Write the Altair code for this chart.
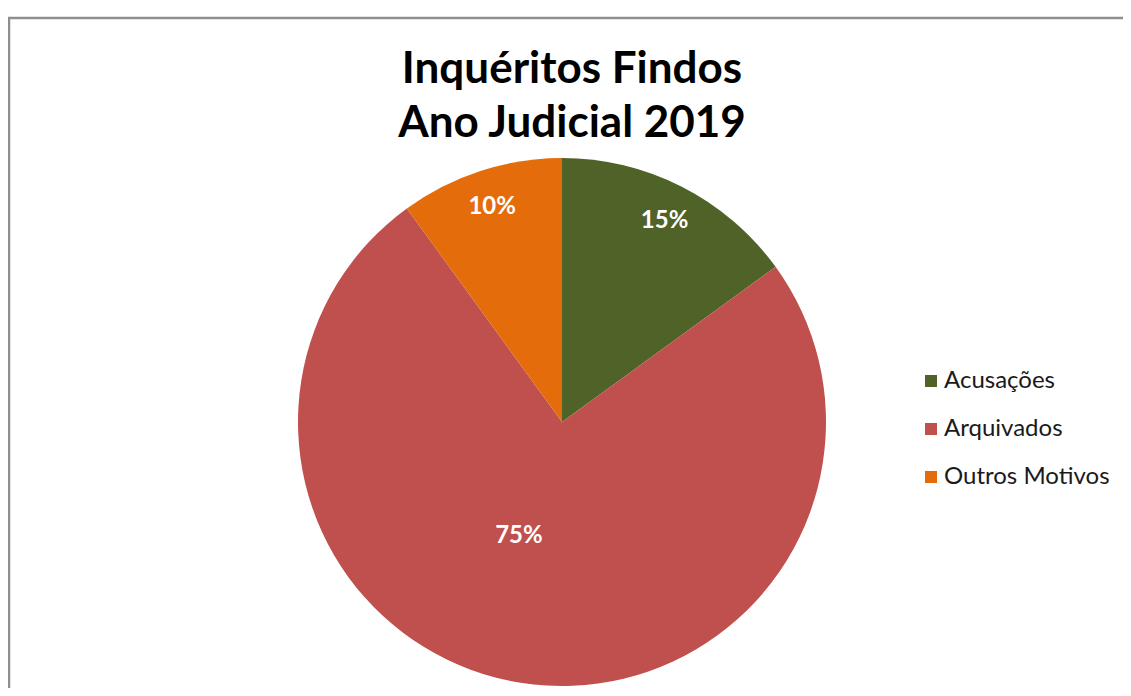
import altair as alt
import pandas as pd

categories = ["Acusações", "Arquivados", "Outros Motivos"]
values = [15, 75, 10]
labels = ["15%", "75%", "10%"]
colors = ["#4F6228", "#C0504D", "#E46C0A"]
title_lines = ["Inquéritos Findos", "Ano Judicial 2019"]

df = pd.DataFrame({"cat": categories, "val": values, "lab": labels, "ord": [0, 1, 2]})
one = pd.DataFrame({"a": [0]})

W, H = 1115, 680
CX, CY, R = 554, 414, 264
FONT = "Lato"

color = alt.Color(
    "cat:N",
    scale=alt.Scale(domain=categories, range=colors),
    sort=categories,
    legend=alt.Legend(
        title=None,
        orient="none",
        legendX=911,
        legendY=361,
        symbolType="square",
        symbolSize=144,
        symbolStrokeWidth=0,
        labelFontSize=24,
        labelFont=FONT,
        labelColor="#1a1a1a",
        labelLimit=400,
        rowPadding=24,
        padding=0,
        labelOffset=1,
    ),
)

base = alt.Chart(df).encode(
    theta=alt.Theta("val:Q", stack=True),
    order=alt.Order("ord:Q"),
)

pie = base.mark_arc(outerRadius=R, stroke=None).encode(
    color=color, x=alt.value(CX), y=alt.value(CY)
)

small_labels = base.mark_text(
    radius=226, font=FONT, fontSize=24, fontWeight="bold", color="white"
).encode(
    text="lab:N",
    x=alt.value(CX),
    y=alt.value(CY),
    opacity=alt.condition(alt.datum.cat != "Arquivados", alt.value(1), alt.value(0)),
)

big_label = base.mark_text(
    radius=122, font=FONT, fontSize=24, fontWeight="bold", color="white", dx=-24, dy=-6
).encode(
    text="lab:N",
    x=alt.value(CX),
    y=alt.value(CY),
    opacity=alt.condition(alt.datum.cat == "Arquivados", alt.value(1), alt.value(0)),
)

top_rule = alt.Chart(one).mark_rule(color="#8f8f8f", strokeWidth=2.5).encode(
    x=alt.value(0), x2=alt.value(W), y=alt.value(10)
)
left_rule = alt.Chart(one).mark_rule(color="#8f8f8f", strokeWidth=2.5).encode(
    x=alt.value(1), y=alt.value(10), y2=alt.value(H)
)

title = alt.Chart(one).mark_text(
    font=FONT, fontSize=44, fontWeight="bold", color="black",
    lineHeight=54, baseline="alphabetic", align="center",
).encode(x=alt.value(564), y=alt.value(75), text=alt.value(title_lines))

chart = alt.layer(top_rule, left_rule, pie, small_labels, big_label, title).properties(
    width=W, height=H, autosize=alt.AutoSizeParams(type="none"), padding=0
).configure_view(strokeWidth=0)

chart.save("out.html", embed_options={"renderer": "svg", "actions": False})
